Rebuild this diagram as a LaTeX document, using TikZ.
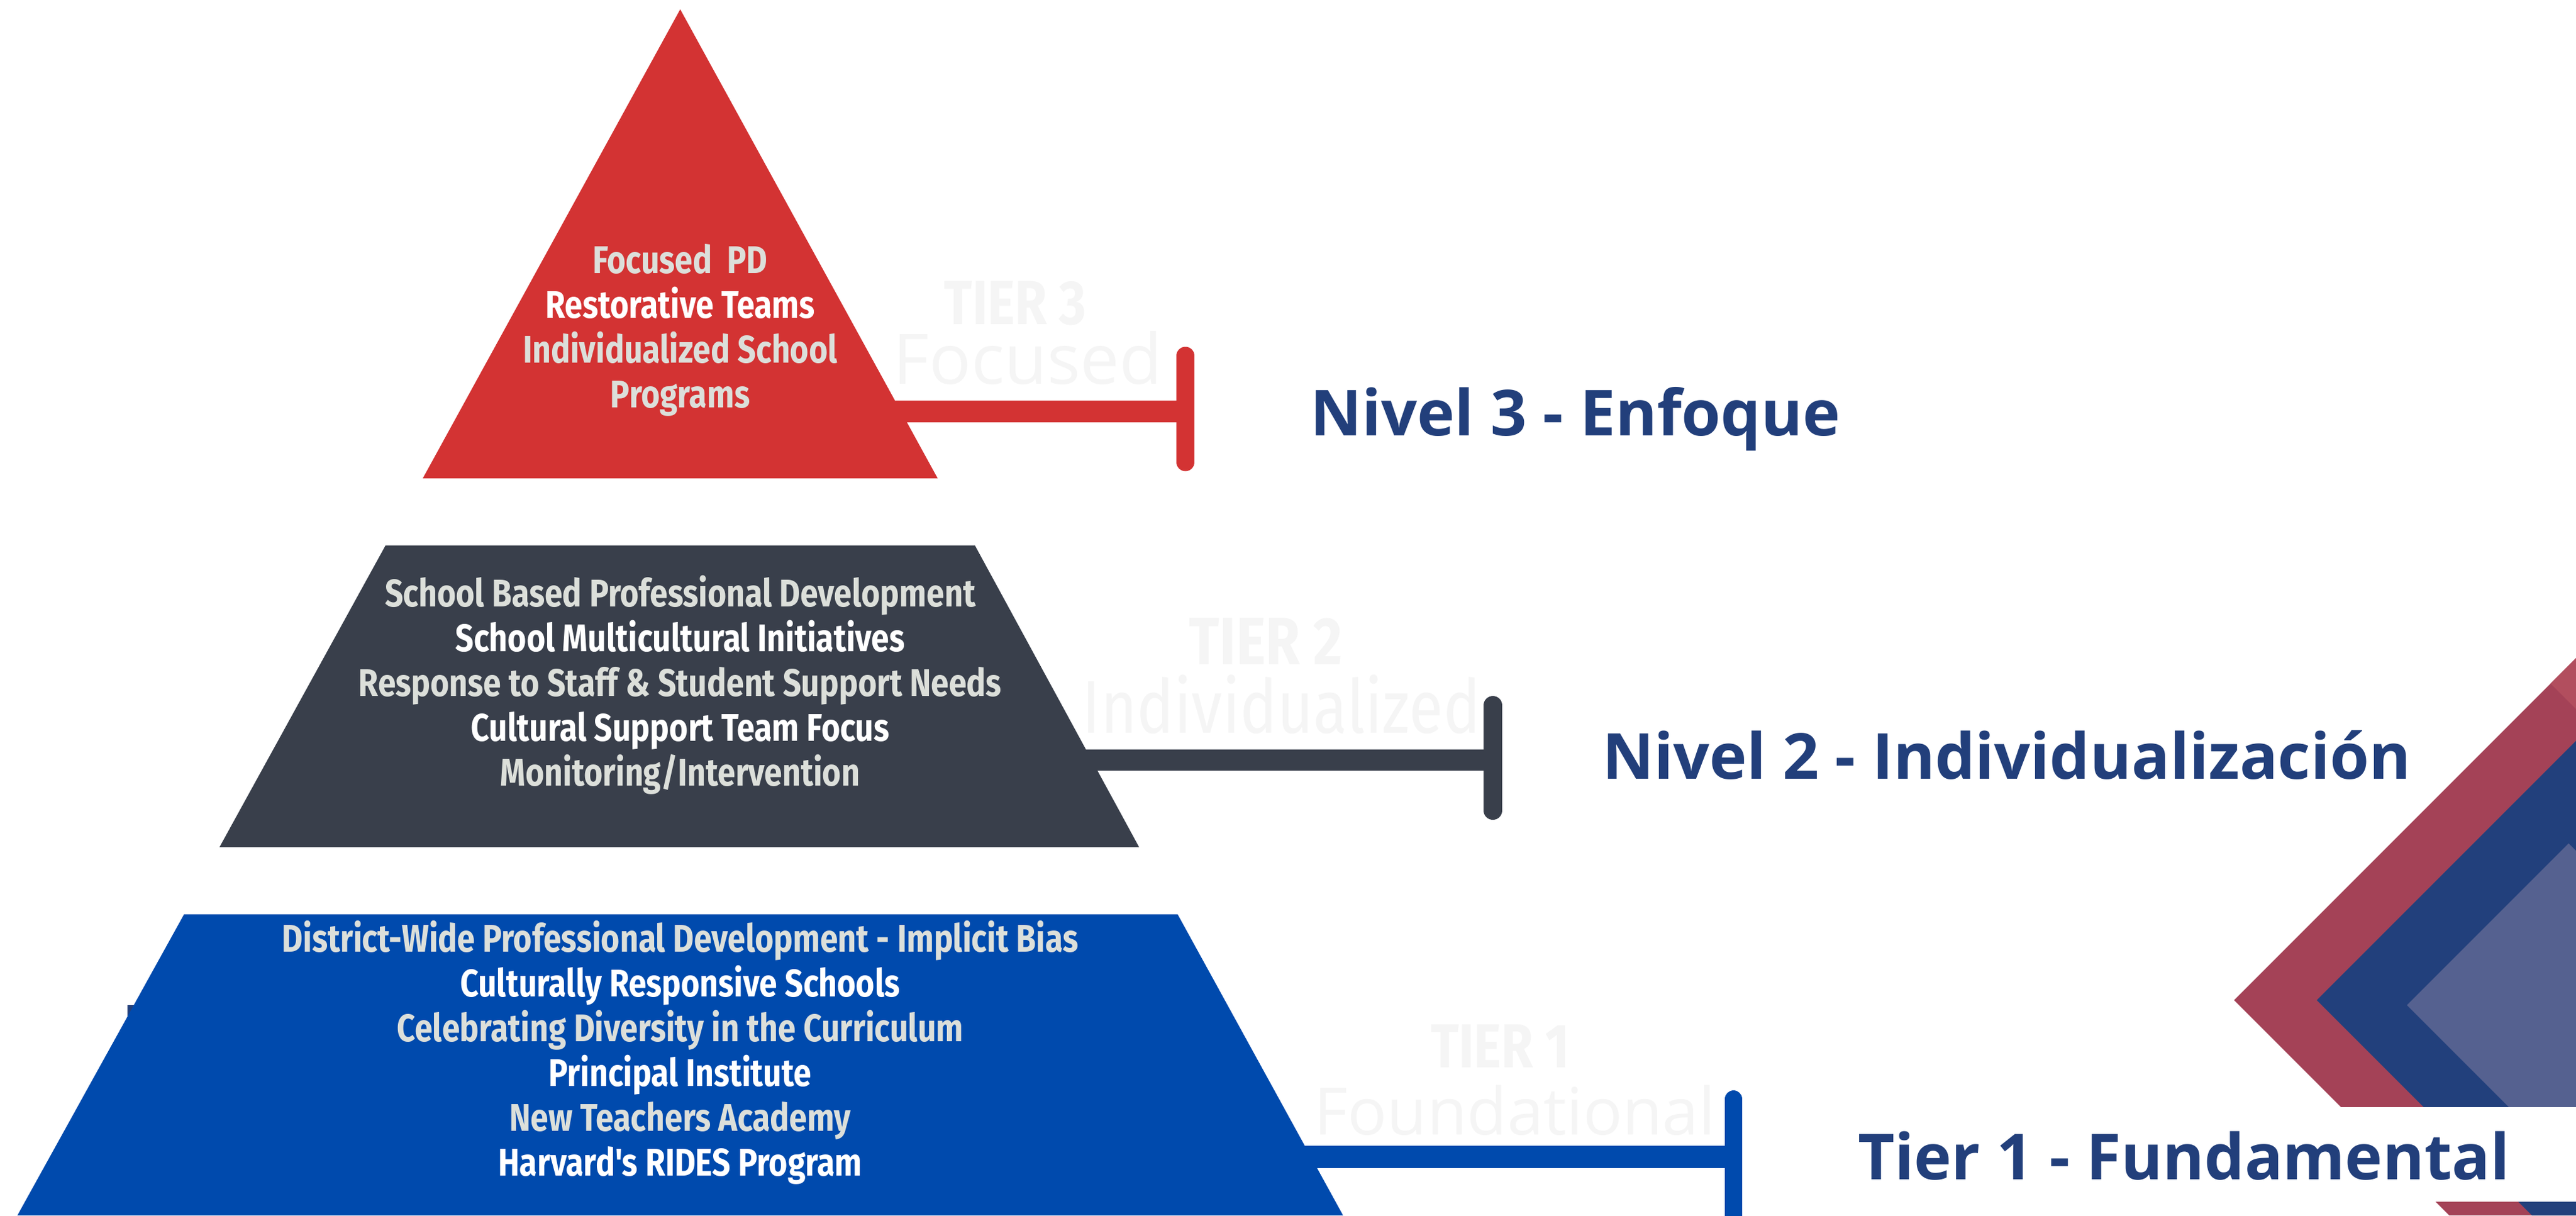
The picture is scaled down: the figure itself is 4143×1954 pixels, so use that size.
\documentclass[tikz,border=0pt]{standalone}
\usepackage{fontspec}
\newfontfamily\tierfont[FakeStretch=0.835]{Fira Sans}
\newfontfamily\labelfont{Open Sans}
\definecolor{tierred}{HTML}{D33333}
\definecolor{tiergray}{HTML}{393F4B}
\definecolor{tierblue}{HTML}{004AAD}
\definecolor{navy}{HTML}{223F7B}
\definecolor{itemgray}{HTML}{DCDFDA}
\definecolor{chevred}{HTML}{A44257}
\definecolor{chevpink}{HTML}{B24E5E}
\definecolor{chevblue}{HTML}{22407C}
\definecolor{chevslate}{HTML}{556190}
\tikzstyle{item} = [font=\tierfont\bfseries\fontsize{62}{72}\selectfont, text height=45pt, text depth=14pt, inner sep=0pt, node distance=72pt]
\tikzstyle{gray item} = [item, text=itemgray]
\tikzstyle{white item} = [item, text=white]
\tikzstyle{level} = [font=\labelfont\bfseries\fontsize{102}{120}\selectfont, text=navy, anchor=base west, inner sep=0pt]
\tikzstyle{ghost} = [text=black!4, inner sep=0pt, anchor=base, text depth=0pt]

\begin{document}
\begin{tikzpicture}[x=1pt, y=-1pt]
        \useasboundingbox (0,0) rectangle (4143,1954);
        \clip (0,0) rectangle (4143,1954);
        \fill[white] (0,0) rectangle (4143,1954);
        % corner chevrons
        \fill[chevred] (3593,1608) -- (4143,1058) -- (4143,1954) -- (3939,1954) -- cycle;
        \fill[chevpink] (4102,1099) -- (4143,1058) -- (4143,1140) -- cycle;
        \fill[chevblue] (3726,1608) -- (4143,1191) -- (4143,1954) -- (4072,1954) -- cycle;
        \fill[chevslate] (3871,1616) -- (4131,1356) -- (4143,1368) -- (4143,1888) -- cycle;
        \fill[white] (3500,1780) rectangle (4143,1932);
        % pyramid
        \fill[navy] (205,1616) rectangle (235,1660);
        \fill[tierred] (1094,15) -- (1508,769) -- (680,769) -- cycle;
        \fill[tiergray] (620,877) -- (1568,877) -- (1832,1362) -- (353,1362) -- cycle;
        \fill[tierblue] (296,1470) -- (1894,1470) -- (2160,1954) -- (28,1954) -- cycle;
        % bars
        \coordinate (t3root) at (1350,661.5);
        \coordinate (t3end) at (1906.5,661.5);
        \coordinate (t3top) at (1906.5,572);
        \coordinate (t3bot) at (1906.5,743);
        \draw[tierred, line width=35pt] (t3root) -- (t3end);
        \draw[tierred, line width=29pt, line cap=round] (t3top) -- (t3bot);
        \coordinate (t2root) at (1600,1222);
        \coordinate (t2end) at (2401,1222);
        \coordinate (t2top) at (2401,1134);
        \coordinate (t2bot) at (2401,1303);
        \draw[tiergray, line width=34pt] (t2root) -- (t2end);
        \draw[tiergray, line width=30pt, line cap=round] (t2top) -- (t2bot);
        \coordinate (t1root) at (2000,1860);
        \coordinate (t1end) at (2788,1860);
        \coordinate (t1top) at (2788,1767);
        \coordinate (t1bot) at (2788,1990);
        \draw[tierblue, line width=36pt] (t1root) -- (t1end);
        \draw[tierblue, line width=28pt, line cap=round] (t1top) -- (t1bot);
        % faint tags
        \node[ghost, text height=70pt, font=\tierfont\bfseries\fontsize{100}{100}\selectfont] (tag3) at (1633,521) {TIER 3};
        \node[ghost, text height=78pt, font=\labelfont\fontsize{112}{112}\selectfont] (name3) at (1653,617) {Focused};
        \node[ghost, text height=74pt, font=\tierfont\bfseries\fontsize{108}{108}\selectfont] (tag2) at (2036,1068) {TIER 2};
        \node[ghost, text height=84pt, font=\tierfont\fontsize{120}{120}\selectfont] (name2) at (2061,1178) {Individualized};
        \node[ghost, text height=70pt, font=\tierfont\bfseries\fontsize{100}{100}\selectfont] (tag1) at (2413,1716) {TIER 1};
        \node[ghost, text height=74pt, font=\labelfont\fontsize{105}{105}\selectfont] (name1) at (2436,1824) {Foundational};
        % tier 3
        \node[gray item] (focused) at (1094,423.5) {Focused\ \ PD};
        \node[white item] (restorative) [below of=focused] {Restorative Teams};
        \node[gray item] (individualized) [below of=restorative] {Individualized School};
        \node[gray item] (programs) [below of=individualized] {Programs};
        % tier 2
        \node[gray item] (schoolpd) at (1094,959.5) {School Based Professional Development};
        \node[white item] (multicultural) [below of=schoolpd] {School Multicultural Initiatives};
        \node[gray item] (response) [below of=multicultural] {Response to Staff \& Student Support Needs};
        \node[white item] (supportteam) [below of=response] {Cultural Support Team Focus};
        \node[gray item] (monitoring) [below of=supportteam] {Monitoring/Intervention};
        % tier 1
        \node[gray item] (districtpd) at (1094,1514.5) {District-Wide Professional Development - Implicit Bias};
        \node[white item] (responsive) [below of=districtpd] {Culturally Responsive Schools};
        \node[gray item] (diversity) [below of=responsive] {Celebrating Diversity in the Curriculum};
        \node[white item] (principal) [below of=diversity] {Principal Institute};
        \node[gray item] (academy) [below of=principal] {New Teachers Academy};
        \node[white item] (rides) [below of=academy] {Harvard's RIDES Program};
        % levels
        \node[level] (nivel3) at (2107,700) {Nivel 3 - Enfoque};
        \node[level] (nivel2) at (2577,1252) {Nivel 2 - Individualización};
        \node[level] (tier1) at (2988,1896) {Tier 1 - Fundamental};
    \end{tikzpicture}
\end{document}
